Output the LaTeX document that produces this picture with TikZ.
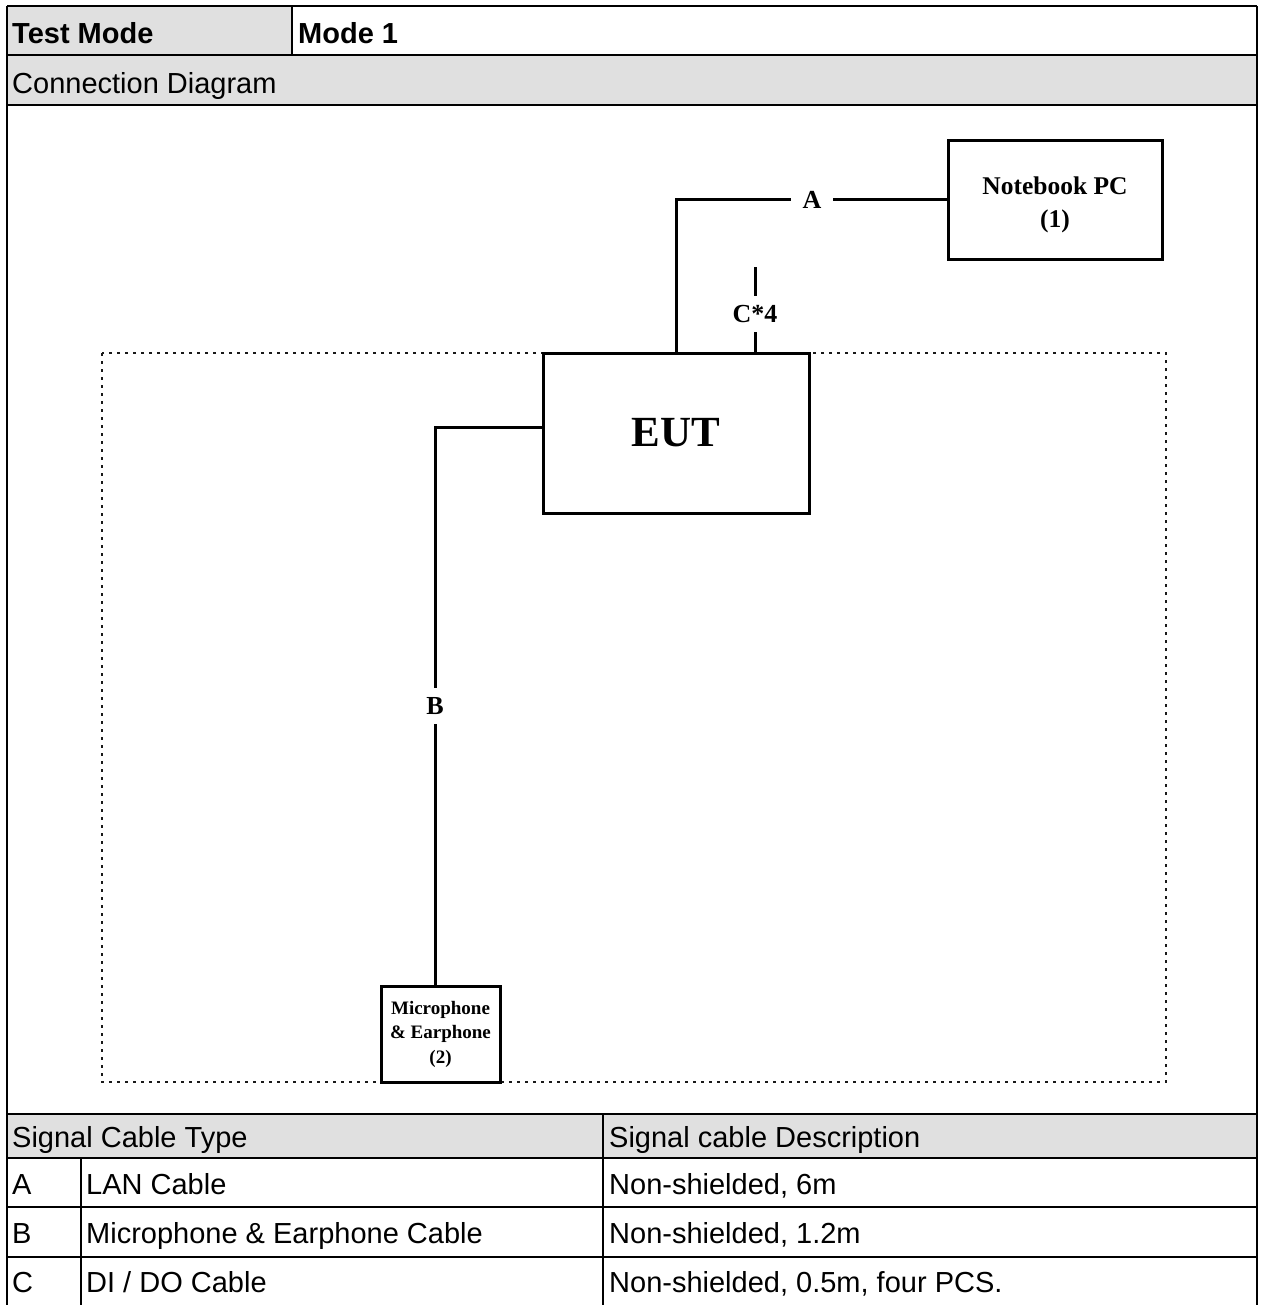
\documentclass[tikz,border=0pt]{standalone}
\usepackage{fontspec}
\setmainfont{Liberation Serif}
\newfontfamily\arial{Liberation Sans}
\definecolor{hdr}{HTML}{E0E0E0}
\begin{document}
\begin{tikzpicture}[x=1pt,y=-1pt,
  grid/.style={line width=2.8pt, black},
  box/.style={draw, fill=white, line width=3pt, inner sep=0pt, align=center},
  cable/.style={line width=3pt},
  lbl/.style={fill=white, inner sep=0pt, minimum width=42pt, minimum height=36pt, font=\fontsize{26}{26}\selectfont\bfseries},
  tcell/.style={anchor=base west, inner sep=0pt, font=\arial\fontsize{29}{29}\selectfont},
  tbold/.style={anchor=base west, inner sep=0pt, font=\arial\bfseries\fontsize{29}{29}\selectfont},
  zone/.style={line width=2.8pt, dash pattern=on 2.8pt off 5.2pt, black!90}
]
\useasboundingbox (0,0) rectangle (1261,1305);
% table fills
\fill[hdr] (7,6) rectangle (292,55);
\fill[hdr] (7,55) rectangle (1257,105);
\fill[hdr] (7,1114) rectangle (1257,1158);
% dotted zone
\draw[zone] (102,353) rectangle (1166,1082);
% cables
\coordinate (ctop) at (755,267);
\draw[cable] (676,353) |- (948,200);
\draw[cable] (755,353) -- (ctop);
% boxes
\node[box, minimum width=266pt, minimum height=160pt, font=\fontsize{43}{43}\selectfont\bfseries] (eut) at (676,433) {EUT};
\node[box, minimum width=214pt, minimum height=119pt] (nb) at (1055,200.5) {};
\node[align=center, inner sep=0pt, font=\fontsize{25.5}{33}\selectfont\bfseries] (nbt) at (1055,205) {Notebook PC\\(1)};
\node[box, minimum width=119pt, minimum height=96pt, font=\fontsize{19}{24.5}\selectfont\bfseries] (mic) at (440.5,1034) {Microphone\\\&~Earphone\\(2)};
\draw[cable] ([yshift=6pt]eut.west) -| ([xshift=-5.5pt]mic.north) node[lbl, pos=0.75] (lb) {B};
\node[lbl] (la) at (812,200) {A};
\node[lbl] (lc) at (755,314) {C*4};
% table lines
\foreach \y in {6,55,105,1114,1158,1207,1257}{\draw[grid] (7,\y) -- (1257,\y);}
\draw[grid] (7,6) -- (7,1305);
\draw[grid] (1257,6) -- (1257,1305);
\draw[grid] (292,6) -- (292,55);
\draw[grid] (81,1158) -- (81,1305);
\draw[grid] (603,1114) -- (603,1305);
% table text
\node[tbold] (t1) at (12,44) {Test Mode};
\node[tbold] (t2) at (298,44) {Mode 1};
\node[tcell] (t3) at (12,94) {Connection Diagram};
\node[tcell] (t4) at (12,1147) {Signal Cable Type};
\node[tcell] (t5) at (609,1147) {Signal cable Description};
\node[tcell] (t6) at (12,1194) {A};
\node[tcell] (t7) at (86,1194) {LAN Cable};
\node[tcell] (t8) at (609,1194) {Non-shielded, 6m};
\node[tcell] (t9) at (12,1243) {B};
\node[tcell] (t10) at (86,1243) {Microphone \& Earphone Cable};
\node[tcell] (t11) at (609,1243) {Non-shielded, 1.2m};
\node[tcell] (t12) at (12,1292) {C};
\node[tcell] (t13) at (86,1292) {DI / DO Cable};
\node[tcell] (t14) at (609,1292) {Non-shielded, 0.5m, four PCS.};
\end{tikzpicture}
\end{document}
